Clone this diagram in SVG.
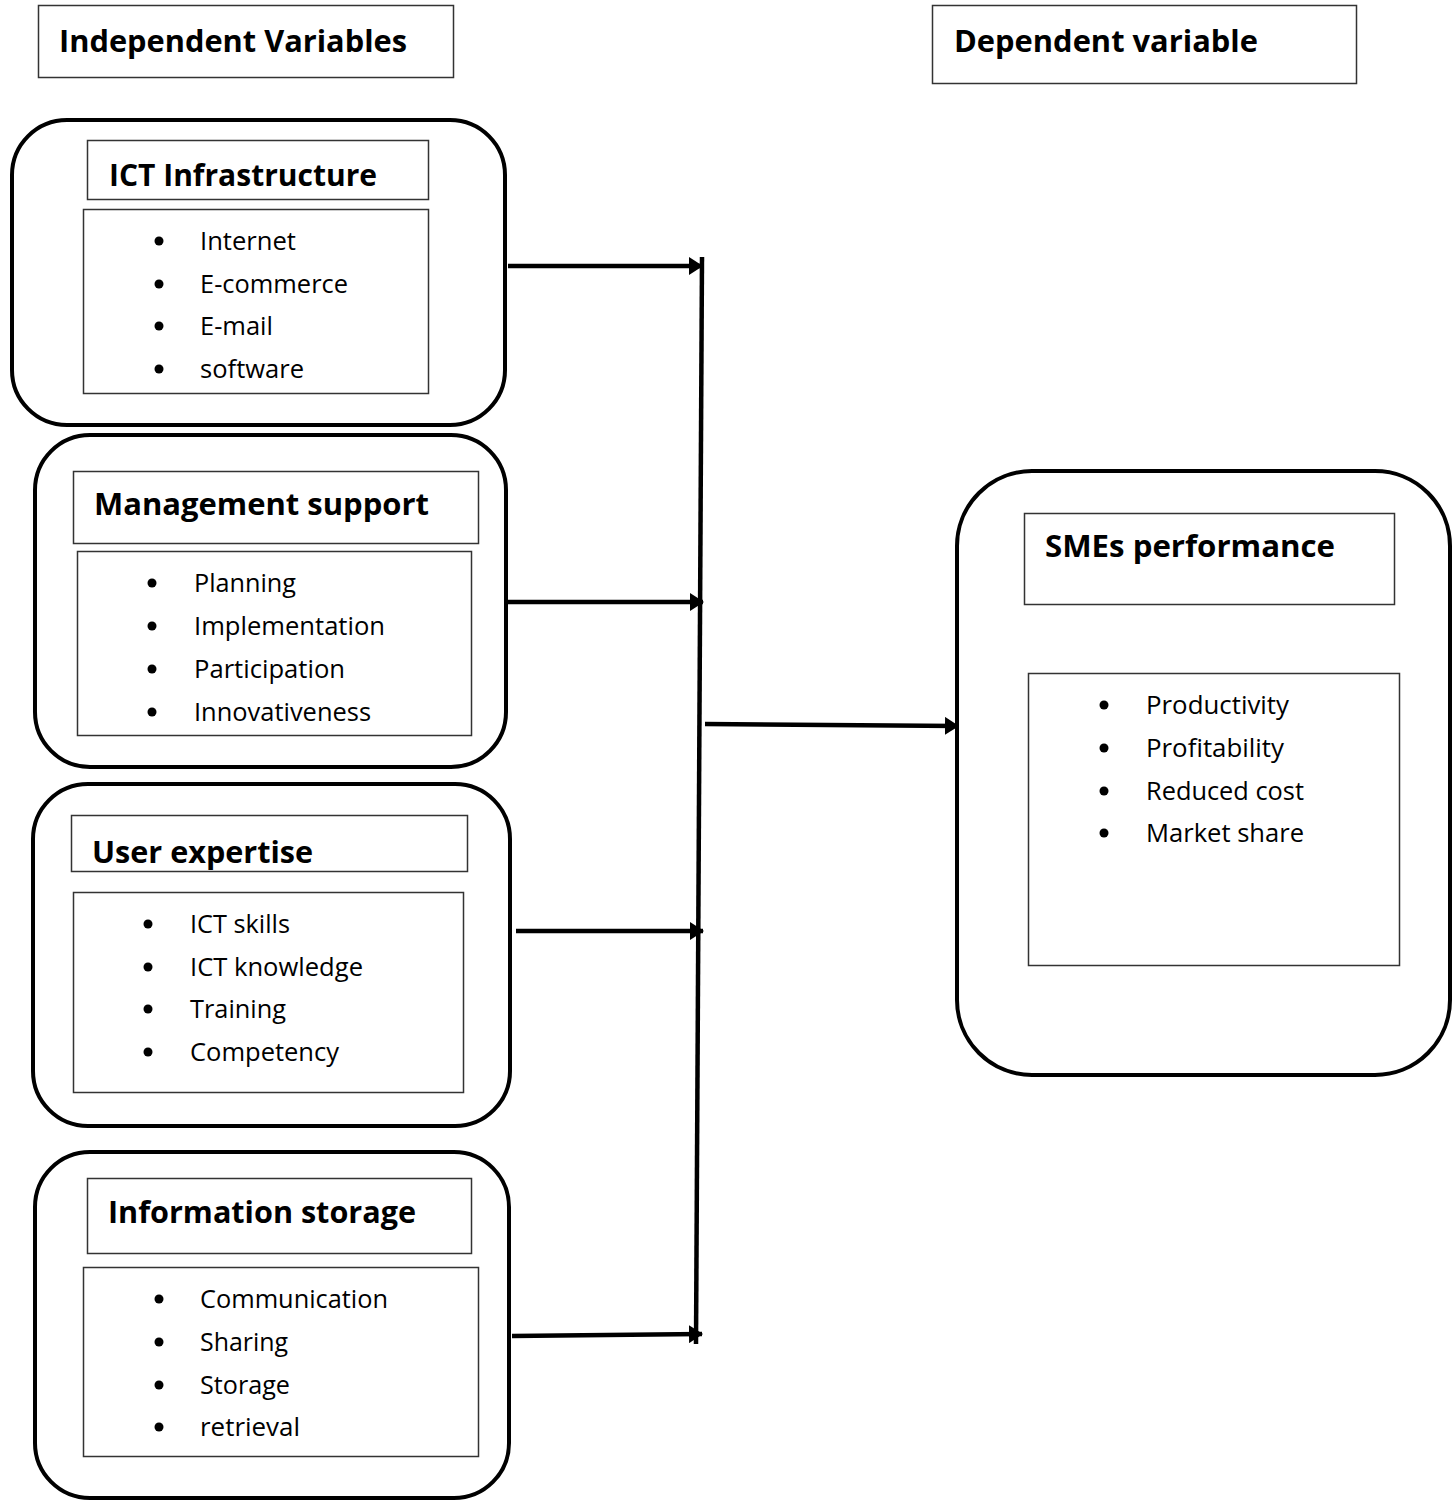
<svg xmlns="http://www.w3.org/2000/svg" width="1454" height="1502" viewBox="0 0 1454 1502">
<style>
.outer{fill:#fff;stroke:#000;stroke-width:4}
.box{fill:#fff;stroke:#333;stroke-width:1.5}
.h{font-family:"Open Sans","Liberation Sans",sans-serif;font-weight:bold;font-size:30px;fill:#000}
.t{font-family:"Open Sans","Liberation Sans",sans-serif;font-size:25px;fill:#000}
.b{fill:#000}
.c{fill:none;stroke:#000;stroke-width:4.5}
</style>
<defs>
<marker id="ah" markerUnits="userSpaceOnUse" markerWidth="14" markerHeight="18" viewBox="0 0 14 18" refX="13" refY="9" orient="auto">
<path d="M0,0 L14,9 L0,18 z" fill="#000"/>
</marker>
<clipPath id="clipUE"><rect x="71" y="815" width="396" height="56"/></clipPath>
</defs>
<rect width="1454" height="1502" fill="#fff"/>

<g id="label-independent">
<rect class="box" x="38.5" y="5.5" width="415" height="72"/>
<text class="h" x="59" y="52" textLength="348" lengthAdjust="spacingAndGlyphs">Independent Variables</text>
</g>
<g id="label-dependent">
<rect class="box" x="932.5" y="5.5" width="424" height="78"/>
<text class="h" x="954" y="52" textLength="304" lengthAdjust="spacingAndGlyphs">Dependent variable</text>
</g>

<g id="node-ict">
<rect class="outer" x="12" y="120" width="493" height="305" rx="55"/>
<rect class="box" x="87.5" y="140.5" width="341" height="59"/>
<text class="h" x="109" y="186" textLength="268" lengthAdjust="spacingAndGlyphs">ICT Infrastructure</text>
<rect class="box" x="83.5" y="209.5" width="345" height="184"/>
<circle class="b" cx="159" cy="241" r="4.5"/><text class="t" x="200" y="250" textLength="96" lengthAdjust="spacingAndGlyphs">Internet</text>
<circle class="b" cx="159" cy="284" r="4.5"/><text class="t" x="200" y="293" textLength="148" lengthAdjust="spacingAndGlyphs">E-commerce</text>
<circle class="b" cx="159" cy="326" r="4.5"/><text class="t" x="200" y="335" textLength="73" lengthAdjust="spacingAndGlyphs">E-mail</text>
<circle class="b" cx="159" cy="369" r="4.5"/><text class="t" x="200" y="378" textLength="104" lengthAdjust="spacingAndGlyphs">software</text>
</g>

<g id="node-management">
<rect class="outer" x="35" y="435" width="471" height="332" rx="55"/>
<rect class="box" x="73.5" y="471.5" width="405" height="72"/>
<text class="h" x="94" y="515" textLength="335" lengthAdjust="spacingAndGlyphs">Management support</text>
<rect class="box" x="77.5" y="551.5" width="394" height="184"/>
<circle class="b" cx="152" cy="583" r="4.5"/><text class="t" x="194" y="592" textLength="102" lengthAdjust="spacingAndGlyphs">Planning</text>
<circle class="b" cx="152" cy="626" r="4.5"/><text class="t" x="194" y="635" textLength="191" lengthAdjust="spacingAndGlyphs">Implementation</text>
<circle class="b" cx="152" cy="669" r="4.5"/><text class="t" x="194" y="678" textLength="151" lengthAdjust="spacingAndGlyphs">Participation</text>
<circle class="b" cx="152" cy="712" r="4.5"/><text class="t" x="194" y="721" textLength="177" lengthAdjust="spacingAndGlyphs">Innovativeness</text>
</g>

<g id="node-user">
<rect class="outer" x="33" y="784" width="477" height="342" rx="55"/>
<rect class="box" x="71.5" y="815.5" width="396" height="56"/>
<text class="h" x="92" y="863" textLength="221" lengthAdjust="spacingAndGlyphs" clip-path="url(#clipUE)">User expertise</text>
<rect class="box" x="73.5" y="892.5" width="390" height="200"/>
<circle class="b" cx="148" cy="924" r="4.5"/><text class="t" x="190" y="933" textLength="100" lengthAdjust="spacingAndGlyphs">ICT skills</text>
<circle class="b" cx="148" cy="967" r="4.5"/><text class="t" x="190" y="976" textLength="173" lengthAdjust="spacingAndGlyphs">ICT knowledge</text>
<circle class="b" cx="148" cy="1009" r="4.5"/><text class="t" x="190" y="1018" textLength="96" lengthAdjust="spacingAndGlyphs">Training</text>
<circle class="b" cx="148" cy="1052" r="4.5"/><text class="t" x="190" y="1061" textLength="149" lengthAdjust="spacingAndGlyphs">Competency</text>
</g>

<g id="node-storage">
<rect class="outer" x="35" y="1152" width="474" height="346" rx="55"/>
<rect class="box" x="87.5" y="1178.5" width="384" height="75"/>
<text class="h" x="108" y="1223" textLength="308" lengthAdjust="spacingAndGlyphs">Information storage</text>
<rect class="box" x="83.5" y="1267.5" width="395" height="189"/>
<circle class="b" cx="159" cy="1299" r="4.5"/><text class="t" x="200" y="1308" textLength="188" lengthAdjust="spacingAndGlyphs">Communication</text>
<circle class="b" cx="159" cy="1342" r="4.5"/><text class="t" x="200" y="1351" textLength="88" lengthAdjust="spacingAndGlyphs">Sharing</text>
<circle class="b" cx="159" cy="1385" r="4.5"/><text class="t" x="200" y="1394" textLength="90" lengthAdjust="spacingAndGlyphs">Storage</text>
<circle class="b" cx="159" cy="1427" r="4.5"/><text class="t" x="200" y="1436" textLength="100" lengthAdjust="spacingAndGlyphs">retrieval</text>
</g>

<g id="node-smes">
<rect class="outer" x="957" y="471" width="493" height="604" rx="75"/>
<rect class="box" x="1024.5" y="513.5" width="370" height="91"/>
<text class="h" x="1045" y="557" textLength="290" lengthAdjust="spacingAndGlyphs">SMEs performance</text>
<rect class="box" x="1028.5" y="673.5" width="371" height="292"/>
<circle class="b" cx="1104" cy="705" r="4.5"/><text class="t" x="1146" y="714" textLength="143" lengthAdjust="spacingAndGlyphs">Productivity</text>
<circle class="b" cx="1104" cy="748" r="4.5"/><text class="t" x="1146" y="757" textLength="138" lengthAdjust="spacingAndGlyphs">Profitability</text>
<circle class="b" cx="1104" cy="791" r="4.5"/><text class="t" x="1146" y="800" textLength="158" lengthAdjust="spacingAndGlyphs">Reduced cost</text>
<circle class="b" cx="1104" cy="833" r="4.5"/><text class="t" x="1146" y="842" textLength="158" lengthAdjust="spacingAndGlyphs">Market share</text>
</g>

<g id="connectors">
<line class="c" x1="702" y1="257" x2="696" y2="1344"/>
<line class="c" x1="508" y1="266" x2="702" y2="266" marker-end="url(#ah)"/>
<line class="c" x1="508" y1="602" x2="703" y2="602" marker-end="url(#ah)"/>
<line class="c" x1="516" y1="931" x2="703" y2="931" marker-end="url(#ah)"/>
<line class="c" x1="512" y1="1336" x2="702" y2="1334" marker-end="url(#ah)"/>
<line class="c" x1="705" y1="724" x2="958" y2="726" marker-end="url(#ah)"/>
</g>
</svg>
